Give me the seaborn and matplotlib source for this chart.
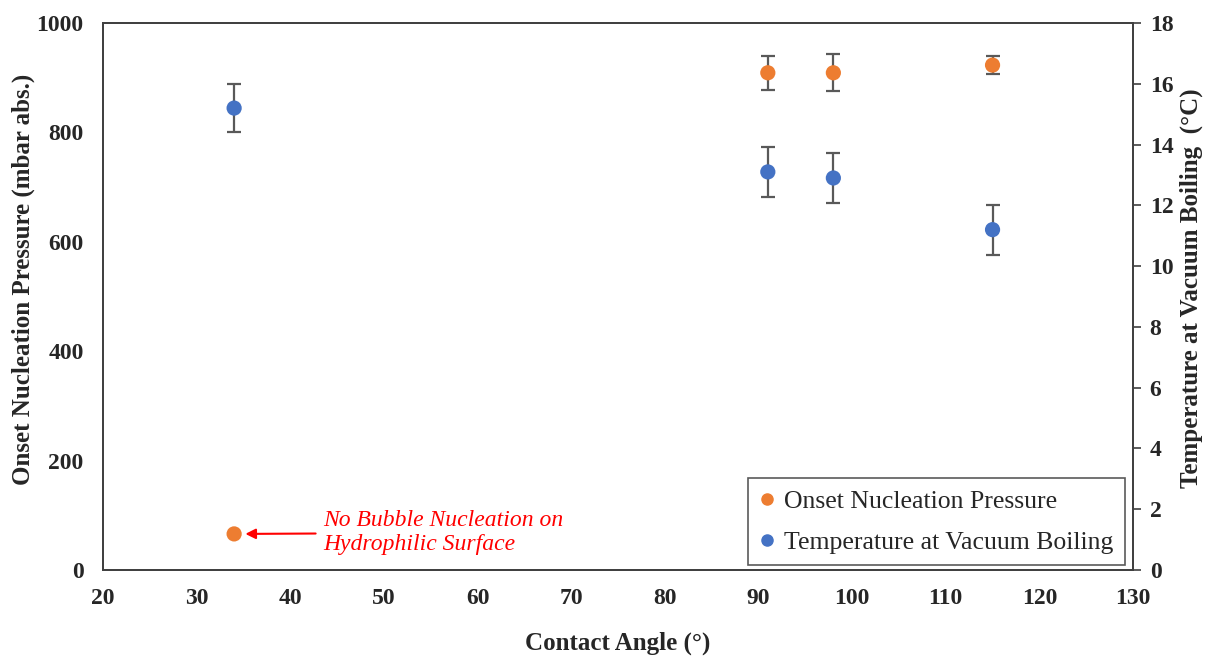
import matplotlib
matplotlib.use("Agg")
import matplotlib.pyplot as plt
import seaborn as sns
import pandas as pd
from matplotlib.lines import Line2D

# Data
contact_angle = [34, 91, 98, 115]
onset_pressure = [66, 909, 909, 923]
onset_pressure_err = [0, 31, 34, 16]
vacuum_temp = [15.2, 13.1, 12.9, 11.2]
vacuum_temp_err = [0.8, 0.82, 0.82, 0.82]
x_ticks = [20, 30, 40, 50, 60, 70, 80, 90, 100, 110, 120, 130]
left_ticks = [0, 200, 400, 600, 800, 1000]
right_ticks = [0, 2, 4, 6, 8, 10, 12, 14, 16, 18]

ORANGE = "#ED7D31"
BLUE = "#4472C4"
ERR = "#595959"

sns.set_theme(style="white")
plt.rcParams["font.family"] = ["Liberation Serif", "DejaVu Serif"]

df = pd.DataFrame({"angle": contact_angle, "pressure": onset_pressure,
                   "perr": onset_pressure_err, "temp": vacuum_temp,
                   "terr": vacuum_temp_err})

fig = plt.figure(figsize=(12.08, 6.57), dpi=100)
ax = fig.add_axes([0.0853, 0.1324, 0.8526, 0.8326])
ax2 = ax.twinx()

ax.errorbar(df["angle"], df["pressure"], yerr=df["perr"], fmt="none",
            ecolor=ERR, elinewidth=1.6, capsize=5, capthick=1.6, zorder=2)
sns.scatterplot(data=df, x="angle", y="pressure", ax=ax, color=ORANGE,
                s=120, edgecolor="none", zorder=3, legend=False)

ax2.errorbar(df["angle"], df["temp"], yerr=df["terr"], fmt="none",
             ecolor=ERR, elinewidth=1.6, capsize=5, capthick=1.6, zorder=2)
sns.scatterplot(data=df, x="angle", y="temp", ax=ax2, color=BLUE,
                s=120, edgecolor="none", zorder=3, legend=False)

ax.set_xlim(20, 130)
ax.set_ylim(0, 1000)
ax2.set_ylim(0, 18)
ax.set_xticks(x_ticks)
ax.set_yticks(left_ticks)
ax2.set_yticks(right_ticks)

for a in (ax, ax2):
    for s in a.spines.values():
        s.set_color("#404040")
        s.set_linewidth(1.3)

ax.tick_params(axis="x", length=0, pad=13, labelsize=17)
ax.tick_params(axis="y", length=0, pad=14, labelsize=17)
ax2.tick_params(axis="y", right=True, length=6, width=1.2, color="#404040",
                direction="out", pad=6, labelsize=17)
for lab in ax.get_xticklabels() + ax.get_yticklabels() + ax2.get_yticklabels():
    lab.set_fontweight("bold")

ax.set_xlabel("Contact Angle (°)", fontsize=18, fontweight="bold", labelpad=16)
ax.set_ylabel("Onset Nucleation Pressure (mbar abs.)", fontsize=18,
              fontweight="bold")
ax2.set_ylabel("Temperature at Vacuum Boiling  (°C)", fontsize=18,
               fontweight="bold")
ax.yaxis.set_label_coords(-0.066, 0.532)
ax2.yaxis.set_label_coords(1.0456, 0.516)

ax.annotate("No Bubble Nucleation on\nHydrophilic Surface",
            xy=(contact_angle[0] + 1.2, onset_pressure[0]),
            xytext=(43.5, onset_pressure[0] + 2),
            ha="left", va="center", color="red", fontsize=17,
            fontstyle="italic", linespacing=1.2,
            arrowprops=dict(arrowstyle="-|>", color="red", lw=1.5,
                            mutation_scale=15, shrinkA=3, shrinkB=0))

handles = [
    Line2D([], [], marker="o", linestyle="none", color=ORANGE, markersize=8,
           label="Onset Nucleation Pressure"),
    Line2D([], [], marker="o", linestyle="none", color=BLUE, markersize=8,
           label="Temperature at Vacuum Boiling"),
]
leg = ax2.legend(handles=handles, loc="lower right", fontsize=18.5,
                 frameon=True, fancybox=False, handletextpad=0.35,
                 handlelength=0.6, borderpad=0.45, labelspacing=0.7,
                 borderaxespad=0.0, bbox_to_anchor=(0.992, 0.009))
leg.get_frame().set_edgecolor("#303030")
leg.get_frame().set_linewidth(1.2)

fig.savefig("out.png", dpi=100)
